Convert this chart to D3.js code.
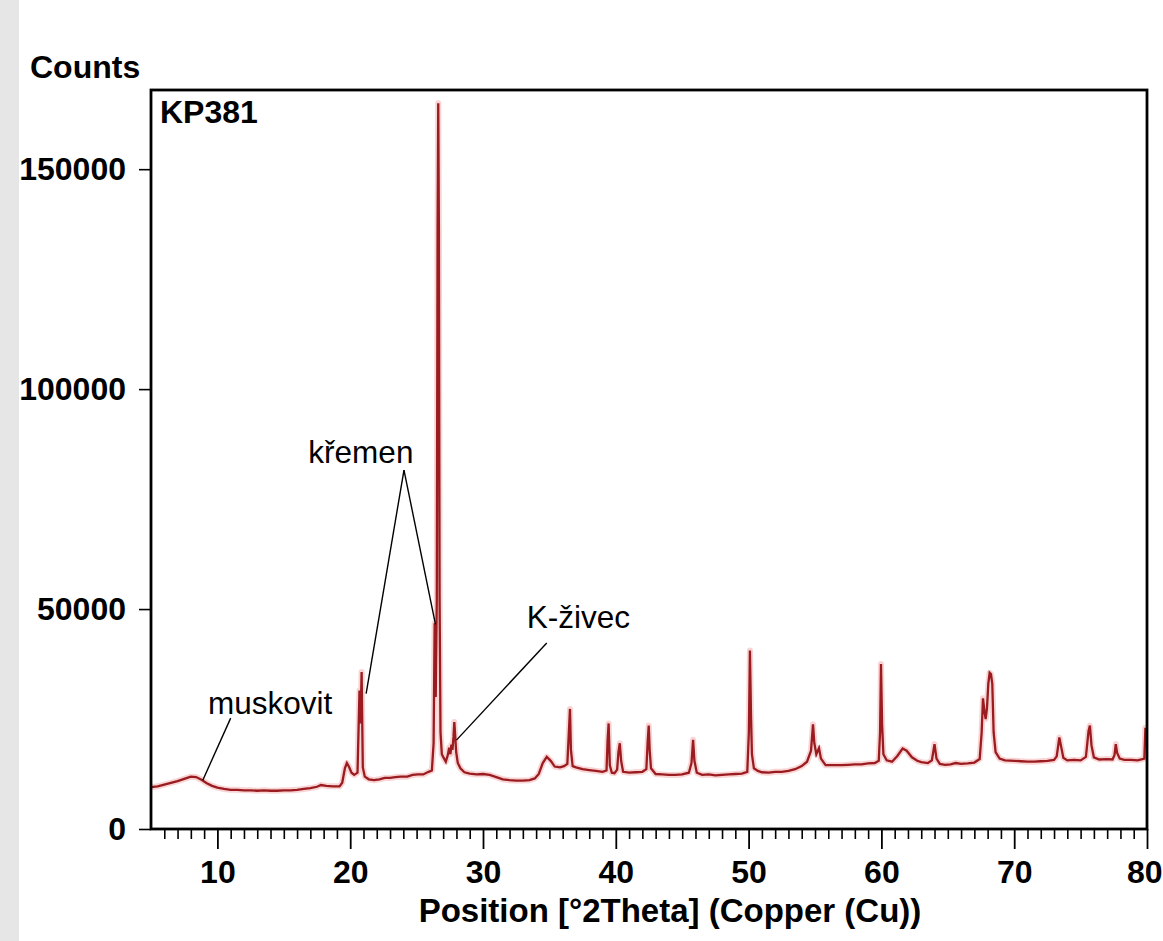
<!DOCTYPE html>
<html>
<head>
<meta charset="utf-8">
<script src="https://cdn.jsdelivr.net/npm/d3@7/dist/d3.min.js"></script>
<style>
  html, body { margin: 0; padding: 0; background: #ffffff; }
  svg { display: block; }
</style>
</head>
<body>
<svg id="chart" width="1163" height="941"></svg>
<script>
// ---- data ----
const theta = [
  5.0, 5.5, 6.0, 6.5, 7.0, 7.5, 8.0, 8.4, 8.8, 9.2, 9.6, 10.0, 10.5, 11.0, 11.5, 12.0, 12.5, 13.0, 13.5, 14.0,
  14.5, 15.0, 15.5, 16.0, 16.5, 17.0, 17.5, 17.8, 18.2, 18.7, 19.2, 19.4, 19.6, 19.75, 19.9, 20.1, 20.3, 20.55,
  20.7, 20.78, 20.86, 20.95, 21.1, 21.4, 21.8, 22.2, 22.6, 23.0, 23.4, 23.8, 24.3, 24.7, 25.1, 25.5, 25.9, 26.15,
  26.28, 26.36, 26.44, 26.52, 26.58, 26.63, 26.68, 26.73, 26.80, 26.9, 27.0, 27.2, 27.35, 27.45, 27.55, 27.62,
  27.7, 27.78, 27.84, 27.9, 27.98, 28.1, 28.3, 28.6, 29.0, 29.5, 30.0, 30.5, 31.0, 31.5, 32.0, 32.5, 33.0, 33.5,
  33.9, 34.2, 34.5, 34.8, 35.1, 35.4, 35.8, 36.1, 36.35, 36.45, 36.55, 36.62, 36.75, 37.0, 37.5, 38.0, 38.5,
  39.0, 39.3, 39.38, 39.46, 39.55, 39.7, 39.9, 40.1, 40.2, 40.3, 40.4, 40.55, 41.0, 41.5, 42.0, 42.3, 42.4,
  42.48, 42.55, 42.65, 43.0, 43.5, 44.0, 44.5, 45.0, 45.5, 45.7, 45.82, 45.92, 46.1, 46.5, 47.0, 47.5, 48.0,
  48.5, 49.0, 49.5, 49.9, 50.02, 50.1, 50.18, 50.25, 50.4, 50.7, 51.0, 51.5, 52.0, 52.5, 53.0, 53.5, 54.0,
  54.4, 54.7, 54.85, 54.95, 55.1, 55.3, 55.45, 55.8, 56.2, 57.0, 57.5, 58.0, 58.5, 59.0, 59.5, 59.8, 59.9,
  59.97, 60.05, 60.15, 60.4, 60.8, 61.2, 61.6, 61.9, 62.3, 62.7, 63.0, 63.5, 63.8, 64.0, 64.15, 64.4, 64.8,
  65.2, 65.6, 66.0, 66.5, 67.0, 67.4, 67.55, 67.65, 67.75, 67.85, 67.95, 68.05, 68.15, 68.25, 68.35, 68.45,
  68.6, 68.9, 69.3, 70.0, 70.5, 71.0, 71.5, 72.0, 72.5, 73.0, 73.2, 73.4, 73.55, 73.7, 74.0, 74.5, 75.0, 75.4,
  75.6, 75.7, 75.82, 76.0, 76.4, 77.0, 77.4, 77.55, 77.65, 77.75, 77.95, 78.3, 78.8, 79.3, 79.8, 79.88, 80.0
];
const counts = [
  9500, 9700, 10100, 10500, 10900, 11400, 11900, 11800, 11200, 10400, 9800, 9400, 9100, 8900, 8900, 8800, 8800, 8700, 8800, 8700,
  8700, 8800, 8800, 8900, 9100, 9300, 9600, 10000, 9800, 9700, 9700, 10500, 13800, 15000, 14200, 12800, 12300, 12800,
  31500, 24000, 35700, 14000, 11900, 11300, 11100, 11300, 11600, 11600, 11800, 11900, 11900, 12300, 12400, 12400, 13000, 13300,
  19500, 46800, 30000, 52000, 136000, 165000, 136000, 53000, 22000, 17000, 16400, 15300, 16800, 18500, 17000, 19200,
  18000, 21000, 24300, 21500, 17500, 15000, 13800, 12900, 12600, 12400, 12500, 12300, 11800, 11300, 11100, 11000, 11000, 11100,
  11500, 12500, 15000, 16400, 15500, 14200, 14000, 14300, 14800, 21000, 27300, 18000, 14300, 14000, 13600, 13400, 13200,
  13000, 13300, 20000, 24000, 14500, 12800, 12700, 13500, 17500, 19500, 15500, 13000, 12800, 12900, 13000, 13600, 19800,
  23500, 18000, 13800, 12500, 12400, 12300, 12300, 12400, 12800, 15000, 20300, 15500, 12800, 12300, 12400, 12200, 12300,
  12400, 12500, 12600, 13000, 22000, 40600, 26000, 17000, 13800, 13200, 12900, 12800, 13000, 13000, 13200, 13600, 14300,
  15300, 17800, 23800, 19500, 17000, 18400, 16000, 14500, 14500, 14500, 14600, 14700, 14700, 14900, 15000, 15500, 22000,
  37500, 24000, 17000, 15600, 15300, 16600, 18300, 17800, 16300, 15500, 15200, 15000, 15600, 19300, 16000, 14800, 14600,
  14700, 15000, 14800, 14900, 15100, 15900, 22000, 29700, 27000, 25000, 27500, 33000, 35500, 35200, 33000, 22000,
  17500, 16000, 15600, 15500, 15400, 15300, 15300, 15400, 15500, 15700, 16500, 20800, 18500, 16200, 15600, 15700, 15600, 16400,
  22300, 23500, 19000, 16300, 15800, 15900, 15800, 16800, 19300, 17300, 16000, 15700, 15700, 15600, 16000, 23000, 20000
];
const xMajorTicks = [10, 20, 30, 40, 50, 60, 70, 80];
const xMinorTicks = d3.range(6, 81, 1);
const yTicks = [0, 50000, 100000, 150000];
const sampleName = "KP381";
const yTitle = "Counts";
const xTitle = "Position [°2Theta] (Copper (Cu))";
// annotations: label, label anchor (theta, counts), leader lines [[theta,counts],[theta,counts]]
const annoLabels = ["muskovit", "křemen", "K-živec"];
const annoLabelPos = [[9.3, 26100], [16.85, 83200], [33.3, 45700]];
const annoLines = [
  [[[11.0, 25200], [8.9, 11100]]],
  [[[24.05, 81600], [21.2, 30800]], [[24.05, 81600], [26.42, 46500]]],
  [[[34.8, 42300], [28.0, 20200]]]
];

(function () {
  // ---- layout ----
  const svg = d3.select("#chart");
  const W = 1163, H = 941;
  const pL = 151, pR = 1147, pT = 90, pB = 829;
  const font = "'Liberation Sans', Arial, sans-serif";

  svg.append("rect").attr("x", 0).attr("y", 0).attr("width", W).attr("height", H).attr("fill", "#ffffff");
  svg.append("rect").attr("x", 0).attr("y", 0).attr("width", 19).attr("height", H).attr("fill", "#e6e6e6");

  const x = d3.scaleLinear().domain([5, 80]).range([pL, pR]);
  const y = d3.scaleLinear().domain([0, 168000]).range([pB, pT]);

  const data = theta.map((t, i) => ({ t, c: counts[i] }));

  svg.append("defs").append("clipPath").attr("id", "clip")
    .append("rect").attr("x", pL).attr("y", pT).attr("width", pR - pL).attr("height", pB - pT);

  const line = d3.line().x(d => x(d.t)).y(d => y(d.c));
  const g = svg.append("g").attr("clip-path", "url(#clip)");
  g.append("path").datum(data).attr("d", line)
    .attr("fill", "none").attr("stroke", "#f2a0a0").attr("stroke-opacity", 0.45)
    .attr("stroke-width", 6).attr("stroke-linejoin", "round");
  g.append("path").datum(data).attr("d", line)
    .attr("fill", "none").attr("stroke", "#9a1c20").attr("stroke-width", 2.3)
    .attr("stroke-linejoin", "miter");

  // x axis: minor ticks
  const xMinor = d3.axisBottom(x).tickValues(xMinorTicks.filter(v => !xMajorTicks.includes(v)))
    .tickSize(10).tickFormat("");
  svg.append("g").attr("transform", `translate(0,${pB})`).call(xMinor)
    .call(s => s.select(".domain").remove())
    .call(s => s.selectAll("line").attr("stroke", "#000").attr("stroke-width", 1.6));

  const xMajor = d3.axisBottom(x).tickValues(xMajorTicks).tickSize(20).tickPadding(11)
    .tickFormat(d3.format("d"));
  svg.append("g").attr("transform", `translate(0,${pB})`).call(xMajor)
    .call(s => s.select(".domain").remove())
    .call(s => s.selectAll("line").attr("stroke", "#000").attr("stroke-width", 1.8))
    .call(s => s.selectAll("text").attr("fill", "#000").attr("font-family", font)
      .attr("font-weight", "bold").attr("font-size", 32))
    .call(s => s.selectAll(".tick").filter(d => d === 80).select("text")
      .attr("text-anchor", "end").attr("x", 1162 - pR));

  const yAxis = d3.axisLeft(y).tickValues(yTicks).tickSize(12).tickPadding(13).tickFormat(d3.format("d"));
  svg.append("g").attr("transform", `translate(${pL},0)`).call(yAxis)
    .call(s => s.select(".domain").remove())
    .call(s => s.selectAll("line").attr("stroke", "#000").attr("stroke-width", 1.6))
    .call(s => s.selectAll("text").attr("fill", "#000").attr("font-family", font)
      .attr("font-weight", "bold").attr("font-size", 32));

  // frame
  svg.append("rect").attr("x", pL).attr("y", pT).attr("width", pR - pL).attr("height", pB - pT)
    .attr("fill", "none").attr("stroke", "#000").attr("stroke-width", 2.8);

  // titles
  svg.append("text").attr("x", 30).attr("y", 78).text(yTitle)
    .attr("font-family", font).attr("font-weight", "bold").attr("font-size", 32).attr("fill", "#000");
  svg.append("text").attr("x", 160).attr("y", 123).text(sampleName)
    .attr("font-family", font).attr("font-weight", "bold").attr("font-size", 32).attr("fill", "#000");
  svg.append("text").attr("x", 670).attr("y", 922).attr("text-anchor", "middle").text(xTitle)
    .attr("font-family", font).attr("font-weight", "bold").attr("font-size", 33).attr("fill", "#000");

  // annotations
  annoLabels.forEach((lab, i) => {
    svg.append("text").attr("x", x(annoLabelPos[i][0])).attr("y", y(annoLabelPos[i][1])).text(lab)
      .attr("font-family", font).attr("font-size", 31.5).attr("fill", "#000");
    annoLines[i].forEach(seg => {
      svg.append("line")
        .attr("x1", x(seg[0][0])).attr("y1", y(seg[0][1]))
        .attr("x2", x(seg[1][0])).attr("y2", y(seg[1][1]))
        .attr("stroke", "#000").attr("stroke-width", 1.4);
    });
  });
})();
</script>
</body>
</html>
